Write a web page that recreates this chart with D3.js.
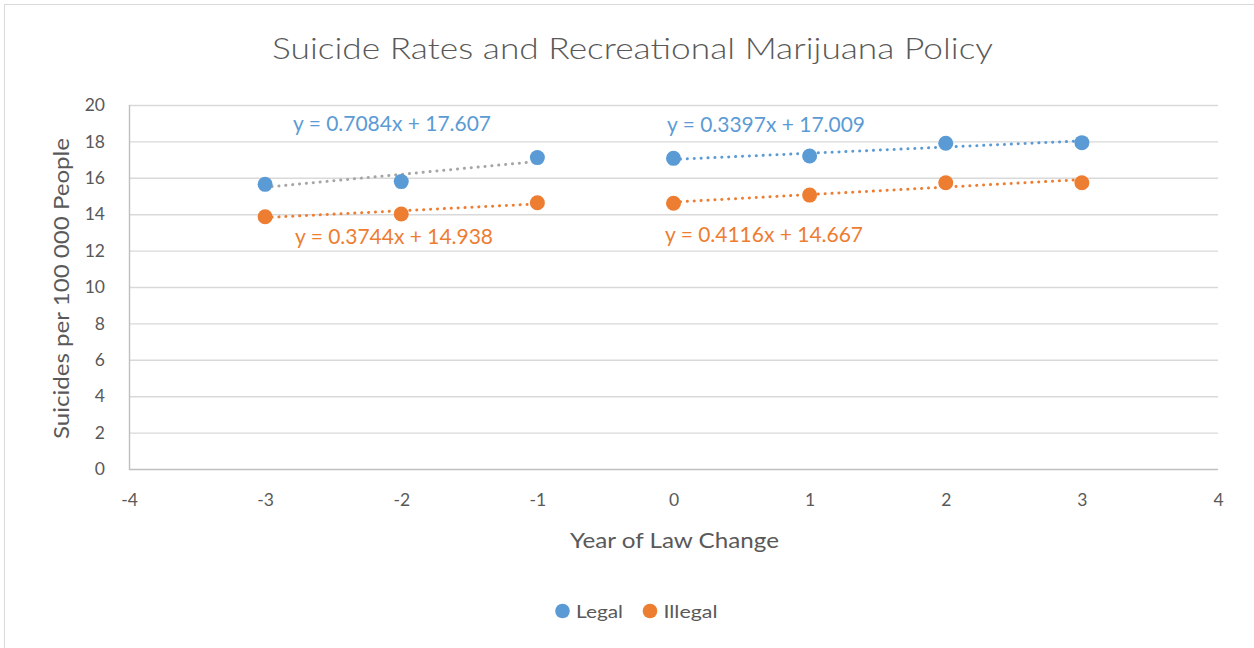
<!DOCTYPE html>
<html><head><meta charset="utf-8">
<script src="https://cdn.jsdelivr.net/npm/d3@7"></script>
<style>body{margin:0;background:#fff;}svg{display:block;}</style>
</head><body>
<svg id="c" width="1254" height="648"></svg>
<script>
const years = [-3, -2, -1, 0, 1, 2, 3];
const legalValues = [15.64, 15.79, 17.11, 17.07, 17.20, 17.90, 17.93];
const illegalValues = [13.86, 14.01, 14.63, 14.60, 15.05, 15.73, 15.73];
const xTicks = [-4, -3, -2, -1, 0, 1, 2, 3, 4];
const yTicks = [0, 2, 4, 6, 8, 10, 12, 14, 16, 18, 20];
// trendlines
const trendSeries = ["Legal", "Illegal", "Legal", "Illegal"];
const trendStart = [-3, -3, 0, 0];
const trendEnd = [-1, -1, 3, 3];
const trendSlope = [0.7084, 0.3744, 0.3397, 0.4116];
const trendIntercept = [17.607, 14.938, 17.009, 14.667];
const trendLabels = ["y = 0.7084x + 17.607", "y = 0.3744x + 14.938", "y = 0.3397x + 17.009", "y = 0.4116x + 14.667"];

const blue = "#5B9BD5", orange = "#ED7D31", grayTrend = "#A5A5A5", txt = "#595959";
const font = "Lato, 'Open Sans', sans-serif";

const svg = d3.select("#c");
svg.append("rect").attr("x", 4.5).attr("y", 4.5).attr("width", 1260).attr("height", 660)
  .attr("fill", "#fff").attr("stroke", "#d9d9d9");

const x = d3.scaleLinear().domain([-4, 4]).range([129, 1218]);
const y = d3.scaleLinear().domain([0, 20]).range([469, 105]);

function fitText(sel, len) {
  return sel.attr("textLength", len).attr("lengthAdjust", "spacingAndGlyphs");
}

// gridlines
svg.append("g").selectAll("line").data(yTicks).join("line")
  .attr("x1", 129).attr("x2", 1218).attr("y1", d => y(d) + 0.5).attr("y2", d => y(d) + 0.5)
  .attr("stroke", d => d === 0 ? "#bfbfbf" : "#d9d9d9").attr("stroke-width", 1.4);
svg.append("line").attr("x1", 129.5).attr("x2", 129.5).attr("y1", y(20)).attr("y2", y(0) + 1)
  .attr("stroke", "#bfbfbf").attr("stroke-width", 1.4);

// axes
const yAxis = svg.append("g").attr("transform", "translate(129,0)")
  .call(d3.axisLeft(y).tickValues(yTicks).tickSize(0).tickPadding(24));
yAxis.select(".domain").remove();
yAxis.selectAll("text").attr("fill", txt).style("font-family", font).style("font-size", "17.5px");

const xAxis = svg.append("g").attr("transform", "translate(0,469)")
  .call(d3.axisBottom(x).tickValues(xTicks).tickSize(0).tickPadding(25).tickFormat(d => String(d)));
xAxis.select(".domain").remove();
xAxis.selectAll("text").attr("fill", txt).style("font-family", font).style("font-size", "17.5px");

// title
fitText(svg.append("text").attr("x", 272).attr("y", 59)
  .attr("fill", txt).style("font-family", font).style("font-size", "30px").style("font-weight", 300)
  .text("Suicide Rates and Recreational Marijuana Policy"), 721);

fitText(svg.append("text").attr("x", 570).attr("y", 548)
  .attr("fill", txt).style("font-family", font).style("font-size", "22px")
  .text("Year of Law Change"), 209);

fitText(svg.append("text").attr("transform", "translate(69,439) rotate(-90)")
  .attr("fill", txt).style("font-family", font).style("font-size", "21px")
  .text("Suicides per 100 000 People"), 301);

// trendlines
const trendColor = (i) => i === 0 ? grayTrend : (trendSeries[i] === "Legal" ? blue : orange);
trendSeries.forEach((s, i) => {
  const f = v => trendSlope[i] * v + trendIntercept[i];
  svg.append("line")
    .attr("x1", x(trendStart[i])).attr("y1", y(f(trendStart[i])))
    .attr("x2", x(trendEnd[i])).attr("y2", y(f(trendEnd[i])))
    .attr("stroke", trendColor(i)).attr("stroke-width", 3)
    .attr("stroke-dasharray", "0.1 6.8").attr("stroke-linecap", "round");
});

// points
const series = [{name: "Legal", vals: legalValues, color: blue}, {name: "Illegal", vals: illegalValues, color: orange}];
series.forEach(s => {
  svg.append("g").selectAll("circle").data(years).join("circle")
    .attr("cx", (d) => x(d)).attr("cy", (d, i) => y(s.vals[i])).attr("r", 7.5)
    .attr("fill", s.color);
});

// trend labels
const labelPos = [[293, 131], [295, 244], [667, 131.5], [665, 242]];
const labelLen = [198, 198, 198, 198];
trendLabels.forEach((t, i) => {
  fitText(svg.append("text").attr("x", labelPos[i][0]).attr("y", labelPos[i][1])
    .attr("fill", trendSeries[i] === "Legal" ? blue : orange)
    .style("font-family", font).style("font-size", "21px").text(t), labelLen[i]);
});

// legend
const legend = svg.append("g");
[["Legal", blue, 562.5, 47], ["Illegal", orange, 650, 54]].forEach(([n, c, lx, len]) => {
  legend.append("circle").attr("cx", lx).attr("cy", 611).attr("r", 7.3).attr("fill", c);
  fitText(legend.append("text").attr("x", lx + 13.5).attr("y", 617.5).attr("fill", txt)
    .style("font-family", font).style("font-size", "18px").text(n), len);
});
</script>
</body></html>
